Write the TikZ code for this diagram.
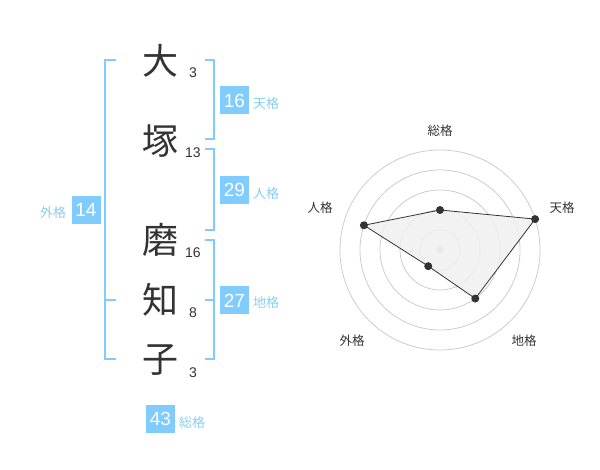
\documentclass[tikz,border=0pt]{standalone}
\usepackage{fontspec}
\setmainfont{Liberation Sans}
\newfontfamily\jp{Noto Sans CJK JP}
\usepackage{tikz}
\definecolor{boxblue}{RGB}{128,204,255}
\definecolor{lblblue}{RGB}{136,206,242}
\definecolor{inkgray}{RGB}{51,51,51}
\definecolor{ringgray}{RGB}{204,204,204}
\definecolor{polyfill}{RGB}{240,240,240}
\tikzset{
	kanji/.style={inner sep=0, text=inkgray, font=\jp\fontsize{36}{36}\selectfont},
	strokes/.style={inner sep=0, text=inkgray, font=\fontsize{14}{14}\selectfont},
	kakubox/.style={fill=boxblue, text=white, inner sep=0, minimum width=29, minimum height=28, font=\fontsize{19}{19}\selectfont},
	kakulbl/.style={inner sep=0, text=lblblue, font=\jp\fontsize{13}{13}\selectfont},
	bracket/.style={draw=boxblue, line width=2},
	radarlbl/.style={inner sep=0, text=inkgray, font=\jp\fontsize{12.5}{12.5}\selectfont},
	dot/.style={circle, fill=inkgray, inner sep=0, minimum size=8}
}
\begin{document}
\begin{tikzpicture}[x=1pt, y=1pt]
		%%%%% START %%%%%
		\useasboundingbox (0, 0) rectangle (600, 470);
		
		% name
		\node[kanji] (c1) at (160, 409) {大};
		\node[kanji] (c2) at (160, 329) {塚};
		\node[kanji] (c3) at (160, 230) {磨};
		\node[kanji] (c4) at (160, 170) {知};
		\node[kanji] (c5) at (160, 110) {子};
		
		\node[strokes] (n1) at (193, 397) {3};
		\node[strokes] (n2) at (193, 317) {13};
		\node[strokes] (n3) at (193, 217) {16};
		\node[strokes] (n4) at (193, 157) {8};
		\node[strokes] (n5) at (193, 97) {3};
		
		% gaikaku
		\draw[bracket] (116, 410) -- (105, 410) -- (105, 111) -- (116, 111);
		\draw[bracket] (105, 170) -- (116, 170);
		\node[kakubox] (gai) at (86, 260) {14};
		\node[kakulbl] (gailbl) at (53, 257) {外格};
		
		% tenkaku
		\draw[bracket] (205, 410) -- (214, 410) -- (214, 331) -- (205, 331);
		\node[kakubox] (ten) at (234.5, 369.5) {16};
		\node[kakulbl, anchor=west] (tenlbl) at (253, 366) {天格};
		
		% jinkaku
		\draw[bracket] (205, 321) -- (214, 321) -- (214, 240) -- (205, 240);
		\node[kakubox] (jin) at (234.5, 280) {29};
		\node[kakulbl, anchor=west] (jinlbl) at (253, 276) {人格};
		
		% chikaku
		\draw[bracket] (205, 230) -- (214, 230) -- (214, 111) -- (205, 111);
		\draw[bracket] (214, 170) -- (205, 170);
		\node[kakubox] (chi) at (234.5, 169.5) {27};
		\node[kakulbl, anchor=west] (chilbl) at (253, 167) {地格};
		
		% soukaku
		\node[kakubox] (sou) at (160.5, 51) {43};
		\node[kakulbl, anchor=west] (soulbl) at (179, 47) {総格};
		
		% radar
		\coordinate (ctr) at (440, 220);
		\foreach \r in {20, 40, 60, 80, 100}
			\draw[ringgray, line width=0.8] (ctr) circle (\r);
		\fill[ringgray] (ctr) circle (4);
		
		\coordinate (psou) at ([shift={(90:40)}]ctr);
		\coordinate (pten) at ([shift={(18:100)}]ctr);
		\coordinate (pchi) at ([shift={(-54:60)}]ctr);
		\coordinate (pgai) at ([shift={(234:20)}]ctr);
		\coordinate (pjin) at ([shift={(162:80)}]ctr);
		
		\draw[fill=polyfill, fill opacity=0.85, draw=inkgray, line width=0.8] (psou) -- (pten) -- (pchi) -- (pgai) -- (pjin) -- cycle;
		\foreach \p in {psou, pten, pchi, pgai, pjin}
			\node[dot] at (\p) {};
		
		\node[radarlbl] (rsou) at (440, 339) {総格};
		\node[radarlbl] (rten) at (562, 262) {天格};
		\node[radarlbl] (rchi) at (524, 129) {地格};
		\node[radarlbl] (rgai) at (352, 129) {外格};
		\node[radarlbl] (rjin) at (320, 262) {人格};
		
		%%%%% END %%%%%
	\end{tikzpicture}
\end{document}
